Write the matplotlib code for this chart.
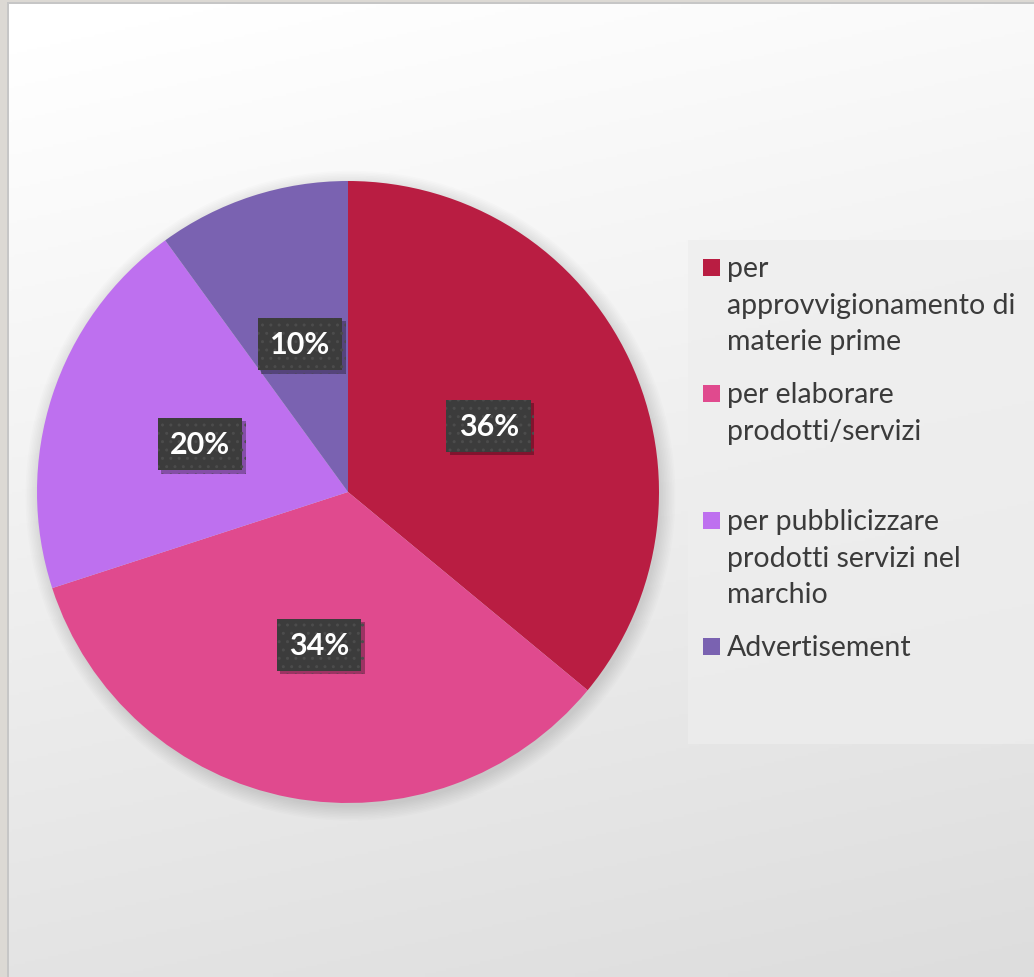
import numpy as np
import matplotlib.pyplot as plt
from matplotlib.patches import Rectangle, Circle
import matplotlib.patheffects as pe

# quota per voce, in percent
labels = [
    ["per", "approvvigionamento di", "materie prime"],
    ["per elaborare", "prodotti/servizi", ""],
    ["per pubblicizzare", "prodotti servizi nel", "marchio"],
    ["Advertisement"],
]
values = [36, 34, 20, 10]
colors = ["#B91D42", "#E04A8E", "#BE70EF", "#7A62B1"]

W, H = 1034, 978
fig = plt.figure(figsize=(W / 100, H / 100), dpi=100)

# background: soft white-to-grey gradient
bg = fig.add_axes([0, 0, 1, 1], zorder=-5)
yy, xx = np.mgrid[0:1:400j, 0:1:400j]
shade = 255 - 34 * np.clip(0.85 * yy + 0.2 * xx - 0.05, 0, 1)
bg.imshow(np.dstack([shade] * 3).astype(np.uint8), extent=[0, 1, 0, 1],
          aspect="auto", origin="upper")
bg.set_xlim(0, 1); bg.set_ylim(0, 1)
bg.axis("off")

# window frame on left / top
bg.add_patch(Rectangle((0, 0), 7 / W, 1, color="#dcd9d4", lw=0))
bg.add_patch(Rectangle((0, 1 - 3 / H), 1, 3 / H, color="#dcd9d4", lw=0))
bg.add_patch(Rectangle((7 / W, 0), 2 / W, 1 - 3 / H, color="#c6c6c6", lw=0))
bg.add_patch(Rectangle((7 / W, 1 - 5 / H), 1, 2 / H, color="#c6c6c6", lw=0))

# legend panel
bg.add_patch(Rectangle((688 / W, 1 - 745 / H), 1 - 688 / W, (745 - 241) / H,
                       facecolor="#eeeeee", alpha=0.7, lw=0))

# pie
cx, cy, r = 348, 493, 311
lim = 1.12
side = 2 * lim * r
ax = fig.add_axes([(cx - lim * r) / W, (H - cy - lim * r) / H, side / W, side / H])

# soft drop shadow under the pie
for k in range(10):
    ax.add_patch(Circle((0.008, -0.012), 1.0 + 0.005 * k, color="black",
                        alpha=0.012, lw=0, zorder=0))

wedges, texts, autotexts = ax.pie(
    values, colors=colors, startangle=90, counterclock=False, radius=1,
    autopct="%d%%", pctdistance=0.5,
    wedgeprops=dict(linewidth=0, zorder=2),
    textprops=dict(color="white", fontsize=22, fontweight="bold",
                   family=["Lato", "DejaVu Sans"]))
ax.set_xlim(-lim, lim); ax.set_ylim(-lim, lim)
ax.set_aspect("equal")
ax.axis("off")

for t in autotexts:
    t.set_zorder(6)
    t.set_va("center")
    t.set_ha("center")
    t.set_bbox(dict(boxstyle="square,pad=0.4", facecolor="#3c3c3c",
                    edgecolor="#4c4c4c", hatch="..", lw=0.0))
    t.get_bbox_patch().set_path_effects(
        [pe.SimplePatchShadow(offset=(2.5, -2.5), shadow_rgbFace="black", alpha=0.3),
         pe.Normal()])

# legend drawn by hand so wrapped labels sit like the original
sq = 17
baseline = 277
for lines, col in zip(labels, colors):
    top = baseline - 17
    bg.add_patch(Rectangle((703 / W, 1 - (top + sq) / H), sq / W, sq / H,
                           color=col, lw=0))
    for line in lines:
        bg.text(727 / W, 1 - baseline / H, line, fontsize=20.5, color="#3b3b3b",
                family=["Lato", "DejaVu Sans"], va="baseline", ha="left")
        baseline += 36.7
    baseline += 16.3

fig.savefig("out.png", dpi=100)
